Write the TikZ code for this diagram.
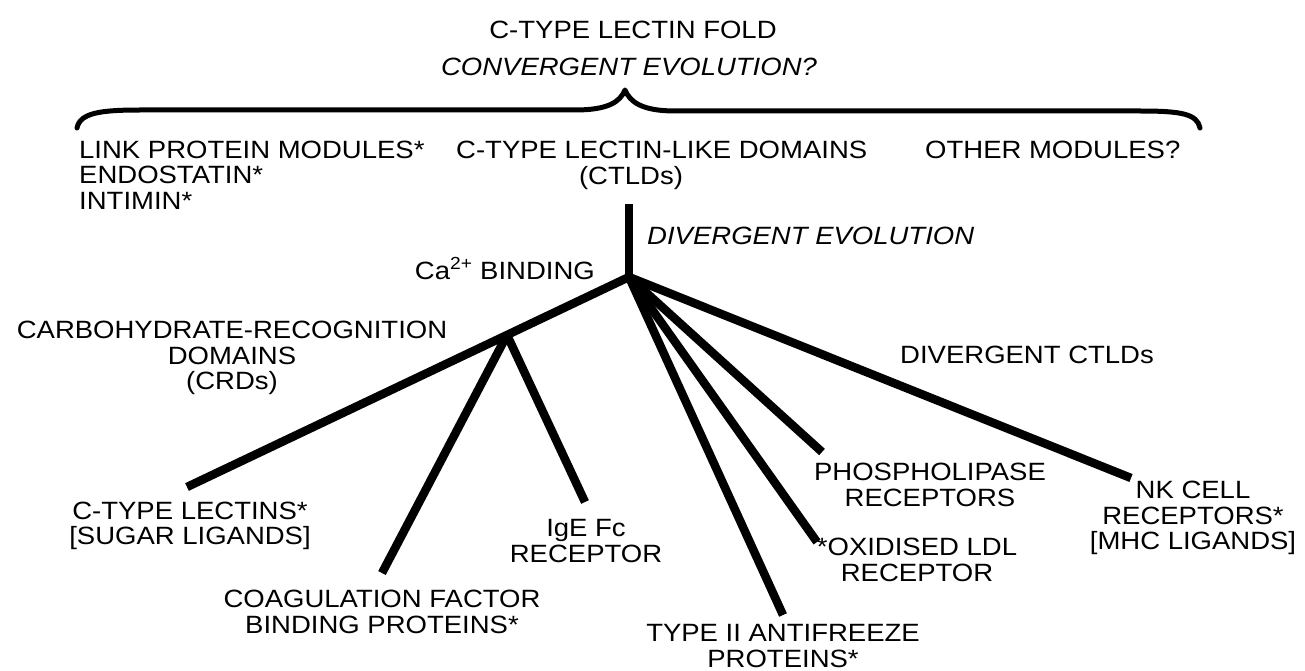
\documentclass[tikz,border=0pt]{standalone}
\usepackage{fontspec}
\setmainfont[FakeStretch=1.1]{Liberation Sans}
\begin{document}
\begin{tikzpicture}[x=1pt,y=-1pt,
  lbl/.style={font=\fontsize{25}{25.5}\selectfont, inner sep=0pt, align=center},
  ilbl/.style={lbl, font=\fontsize{25}{25.5}\selectfont\itshape},
  branch/.style={line width=8.5pt, line cap=butt, line join=round},
  bracepath/.style={line width=5pt, line cap=round, line join=round}]
\fill[white] (0,0) rectangle (1305,671);
\useasboundingbox (0,0) rectangle (1305,671);

% headings
\node[lbl, anchor=base] (title) at (633,39) {C-TYPE LECTIN FOLD};
\node[ilbl, anchor=base] (conv) at (629,76) {CONVERGENT EVOLUTION?};

% brace
\coordinate (bl) at (77,128);
\coordinate (btip) at (625,90);
\coordinate (br) at (1200,128);
\draw[bracepath] (bl) .. controls (80,113) and (100,110) .. (140,110) -- (575,110)
  .. controls (608,110) and (620,102) .. (btip)
  .. controls (630,102) and (642,111) .. (675,111) -- (1140,111)
  .. controls (1182,111) and (1197,114) .. (br);

% second row
\node[lbl, anchor=west, align=left] (link) at (79,175) {LINK PROTEIN MODULES*\\ENDOSTATIN*\\INTIMIN*};
\node[lbl, anchor=base west] (ctld) at (456,159) {C-TYPE LECTIN-LIKE DOMAINS};
\node[lbl, anchor=base] (ctldabbr) at (631,184) {(CTLDs)};
\node[lbl, anchor=base west] (other) at (925,159) {OTHER MODULES?};

\node[ilbl, anchor=base west] (div) at (647,244) {DIVERGENT EVOLUTION};
\node[lbl, anchor=base east] (ca) at (595,279) {Ca\textsuperscript{2+} BINDING};

\node[lbl] (crd) at (232,358) {CARBOHYDRATE-RECOGNITION\\DOMAINS\\(CRDs)};
\node[lbl, anchor=base west] (divctld) at (900,363) {DIVERGENT CTLDs};

% leaves
\node[lbl] (ctl) at (190,526) {C-TYPE LECTINS*\\{[}SUGAR LIGANDS{]}};
\node[lbl] (coag) at (382,612) {COAGULATION FACTOR\\BINDING PROTEINS*};
\node[lbl] (ige) at (586,541) {IgE Fc\\RECEPTOR};
\node[lbl] (afp) at (783,646) {TYPE II ANTIFREEZE\\PROTEINS*};
\node[lbl] (ldl) at (917,560) {*OXIDISED LDL\\RECEPTOR};
\node[lbl] (pla) at (930,485) {PHOSPHOLIPASE\\RECEPTORS};
\node[lbl] (nk) at (1193,518) {NK CELL\\RECEPTORS*\\{[}MHC LIGANDS{]}};

% tree
\coordinate (top) at (629,204);
\coordinate (hub) at (629,277);
\coordinate (crdhub) at (507,335);
\coordinate (ctlend) at (187,487);
\coordinate (coagend) at (382,573);
\coordinate (igeend) at (585,502);
\coordinate (afpend) at (783,615);
\coordinate (ldlend) at (817,542);
\coordinate (plaend) at (822,452);
\coordinate (nkend) at (1131,478);

\draw[branch] (top) -- (hub);
\draw[branch] (hub) -- (crdhub) -- (ctlend);
\draw[branch] (crdhub) -- (coagend);
\draw[branch] (crdhub) -- (igeend);
\draw[branch] (hub) -- (afpend);
\draw[branch] (hub) -- (ldlend);
\draw[branch] (hub) -- (plaend);
\draw[branch] (hub) -- (nkend);
\end{tikzpicture}
\end{document}
